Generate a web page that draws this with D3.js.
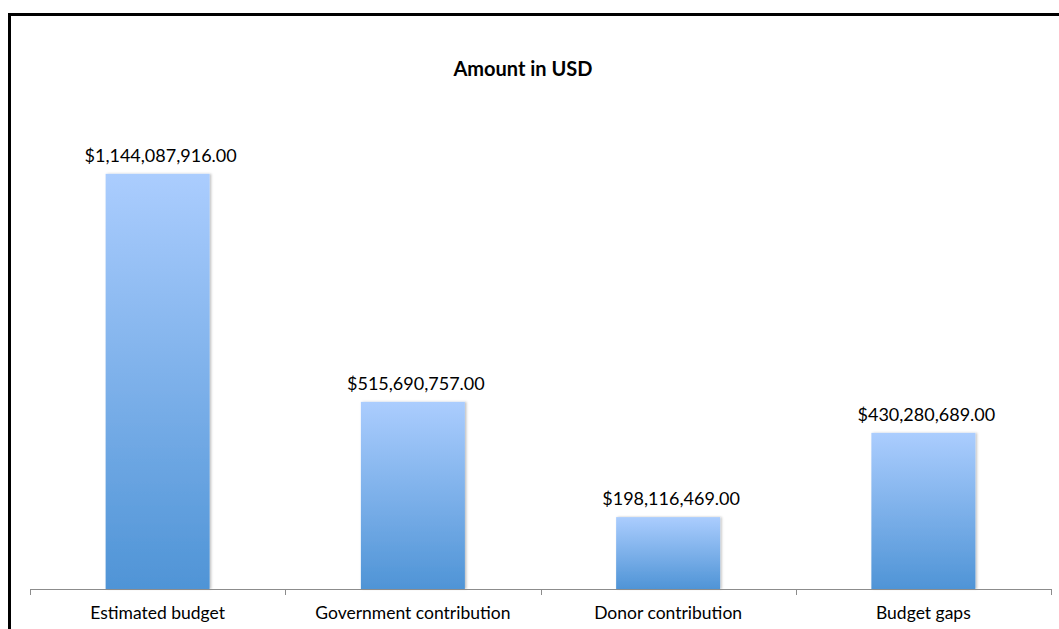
<!DOCTYPE html>
<html><head><meta charset="utf-8">
<script src="https://cdn.jsdelivr.net/npm/d3@7"></script>
<style>body{margin:0;background:#fff}svg{display:block}</style>
</head><body>
<svg id="c" width="1059" height="629"></svg>
<script>
const categories = ["Estimated budget", "Government contribution", "Donor contribution", "Budget gaps"];
const values = [1144087916, 515690757, 198116469, 430280689];
const valueLabels = ["$1,144,087,916.00", "$515,690,757.00", "$198,116,469.00", "$430,280,689.00"];
const title = "Amount in USD";

const svg = d3.select("#c");
const font = "Lato, 'Open Sans', sans-serif";

// frame
svg.append("path").attr("d", "M9.5,1000 L9.5,14.5 L1100,14.5")
  .attr("fill", "none").attr("stroke", "#000").attr("stroke-width", 3);

const defs = svg.append("defs");
const g = defs.append("linearGradient").attr("id", "bg").attr("x1", 0).attr("x2", 0).attr("y1", 0).attr("y2", 1);
g.append("stop").attr("offset", "0%").attr("stop-color", "#abcdfe");
g.append("stop").attr("offset", "100%").attr("stop-color", "#4f94d6");
const f = defs.append("filter").attr("id", "sh").attr("x", "-10%").attr("y", "-10%").attr("width", "130%").attr("height", "120%");
f.append("feDropShadow").attr("dx", 1.5).attr("dy", 0).attr("stdDeviation", 1).attr("flood-color", "#000").attr("flood-opacity", 0.25);

const x = d3.scaleBand().domain(categories).range([30, 1051]).paddingInner(0).paddingOuter(0);
const y = d3.scaleLinear().domain([0, 1.4e9]).range([589, 81]);
const bw = 104;

svg.selectAll("rect.bar").data(values).enter().append("rect")
  .attr("class", "bar")
  .attr("x", (d, i) => x(categories[i]) + x.bandwidth() / 2 - bw / 2)
  .attr("y", d => y(d))
  .attr("width", bw)
  .attr("height", d => y(0) - y(d))
  .attr("fill", "url(#bg)")
  .attr("filter", "url(#sh)");

// axis
const axis = d3.axisBottom(x).tickSize(0).tickFormat("");
const ag = svg.append("g").attr("transform", "translate(0,589)").call(axis);
ag.select(".domain").attr("stroke", "#8c8c8c").attr("d", "M30,0.5H1051");
const bounds = [30, 1051].concat(categories.slice(1).map(c => x(c)));
ag.selectAll("line.sep").data(bounds).enter().append("line").attr("class", "sep")
  .attr("x1", d => Math.round(d) + 0.5).attr("x2", d => Math.round(d) + 0.5)
  .attr("y1", 0).attr("y2", 6).attr("stroke", "#8c8c8c");

svg.selectAll("text.cat").data(categories).enter().append("text")
  .attr("class", "cat")
  .attr("x", d => x(d) + x.bandwidth() / 2)
  .attr("y", 619)
  .attr("text-anchor", "middle")
  .attr("font-family", font).attr("font-size", 17.5).attr("fill", "#000")
  .text(d => d);

svg.selectAll("text.val").data(values).enter().append("text")
  .attr("class", "val")
  .attr("x", (d, i) => x(categories[i]) + x.bandwidth() / 2 + 3)
  .attr("y", d => y(d) - 12)
  .attr("text-anchor", "middle")
  .attr("font-family", font).attr("font-size", 18).attr("fill", "#000")
  .text((d, i) => valueLabels[i]);

svg.append("text").attr("x", 523).attr("y", 76).attr("text-anchor", "middle")
  .attr("font-family", font).attr("font-size", 20).attr("font-weight", "bold").attr("fill", "#000")
  .text(title);
</script>
</body></html>
